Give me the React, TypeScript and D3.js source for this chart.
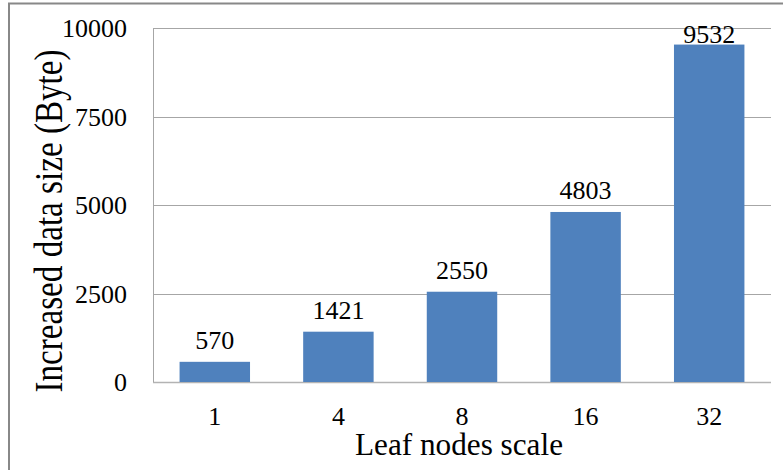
import * as d3 from "d3";

const categories = ["1", "4", "8", "16", "32"];
const values = [570, 1421, 2550, 4803, 9532];
const yTicks = [0, 2500, 5000, 7500, 10000];

const width = 783;
const height = 470;
const margin = { top: 28, right: 12, bottom: 88, left: 153 };
const w = width - margin.left - margin.right;
const h = height - margin.top - margin.bottom;
const font = "Liberation Serif, Times New Roman, serif";

export default function App() {
  const x = d3.scaleBand<string>().domain(categories).range([0, w]).paddingInner(0.43).paddingOuter(0.215);
  const y = d3.scaleLinear().domain([0, 10000]).range([h, 0]);

  return (
    <svg width={width} height={height} style={{ position: "absolute", left: 0, top: 0, fontFamily: font }}>
      <rect width={width} height={height} fill="#fff" />
      {/* frame: only top and left edges are in the crop */}
      <path d={`M9,${height} V3.5 H${width}`} fill="none" stroke="#888" strokeWidth={2} />

      <g transform={`translate(${margin.left},${margin.top})`}>
        {yTicks.map(t => (
          <line
            key={t}
            x1={0}
            x2={w}
            y1={Math.round(y(t)) + 0.5}
            y2={Math.round(y(t)) + 0.5}
            stroke={t === 0 ? "#b3b3b3" : "#a6a6a6"}
            strokeWidth={t === 0 ? 1.5 : 1}
          />
        ))}
        <line x1={0.5} x2={0.5} y1={0} y2={h} stroke="#a6a6a6" />

        {values.map((v, i) => (
          <rect key={i} x={x(categories[i])} width={x.bandwidth()} y={y(v)} height={h - y(v)} fill="#4f81bd" />
        ))}

        {values.map((v, i) => (
          <text
            key={i}
            x={x(categories[i])! + x.bandwidth() / 2}
            y={Math.max(y(v) - 13, 15)}
            textAnchor="middle"
            style={{ fontFamily: font, fontSize: 26 }}
          >
            {v}
          </text>
        ))}

        {yTicks.map(t => (
          <text key={t} x={-26} y={y(t) + 9} textAnchor="end" style={{ fontFamily: font, fontSize: 26 }}>
            {t}
          </text>
        ))}

        {categories.map(c => (
          <text key={c} x={x(c)! + x.bandwidth() / 2} y={h + 43} textAnchor="middle" style={{ fontFamily: font, fontSize: 26 }}>
            {c}
          </text>
        ))}
      </g>

      <text
        x={459}
        y={455}
        textAnchor="middle"
        textLength={208}
        lengthAdjust="spacingAndGlyphs"
        style={{ fontFamily: font, fontSize: 32 }}
      >
        Leaf nodes  scale
      </text>
      <text
        transform="rotate(-90)"
        x={-221}
        y={62}
        textAnchor="middle"
        textLength={343}
        lengthAdjust="spacingAndGlyphs"
        style={{ fontFamily: font, fontSize: 40 }}
      >
        Increased  data  size  (Byte)
      </text>
    </svg>
  );
}
